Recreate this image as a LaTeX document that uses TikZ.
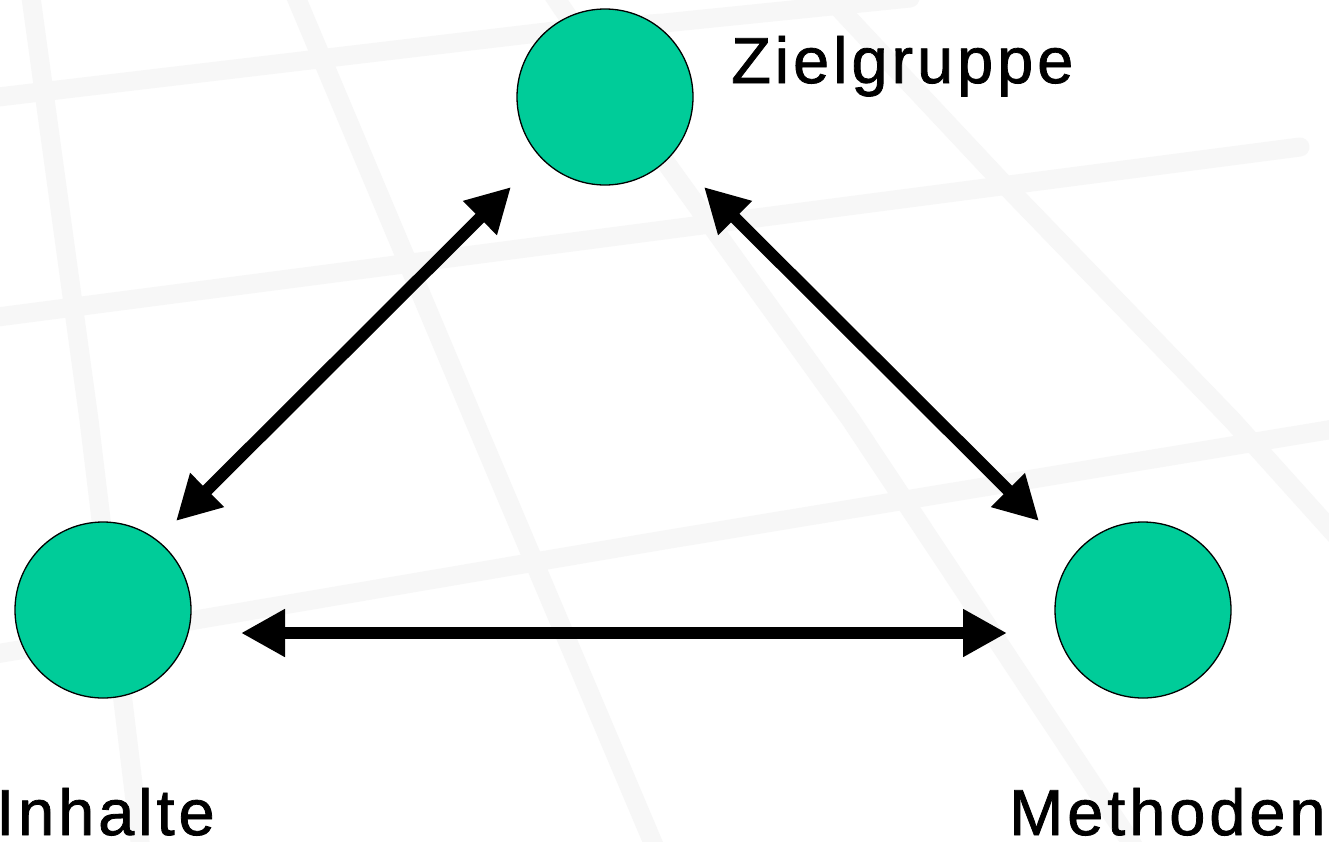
\documentclass[tikz,border=0pt]{standalone}
\usepackage{fontspec}
\setmainfont{Liberation Sans}[LetterSpace=6,FakeBold=1.2]
\usetikzlibrary{arrows.meta}
\definecolor{circfill}{RGB}{0,204,153}
\definecolor{bgline}{RGB}{247,247,247}
\tikzset{
  dot/.style={circle,draw=black,line width=1.3pt,fill=circfill,minimum size=176pt,inner sep=0pt},
  lbl/.style={anchor=base west,inner sep=0pt,font=\fontsize{65}{72}\selectfont},
  arr/.style={line width=12pt,{Triangle[length=44pt,width=45pt]}-{Triangle[length=44pt,width=45pt]}},
  grid/.style={line width=19pt,bgline,line cap=round}
}
\begin{document}
\begin{tikzpicture}[x=1pt,y=-1pt]
\useasboundingbox (0,0) rectangle (1329,841);
\fill[white] (0,0) rectangle (1329,841);
\begin{scope}
\clip (0,0) rectangle (1329,841);
% background grid
\draw[grid] (30,-10) -- (89,420) -- (141,850);
\draw[grid] (293,-10) -- (474,420) -- (656,850);
\draw[grid] (550,-10) -- (664,160) -- (851,420) -- (1136,850);
\draw[grid] (822,-10) -- (1003,183) -- (1232,420) -- (1340,540);
\draw[grid] (-10,98) -- (563,30) -- (664,23) -- (910,-2);
\draw[grid] (-10,318) -- (664,230) -- (1300,147);
\draw[grid] (-10,655) -- (664,540) -- (1340,428);
\end{scope}
% nodes
\node[dot] (Z) at (605,97) {};
\node[dot] (I) at (103,610) {};
\node[dot] (M) at (1143,610) {};
\node[lbl] (Zl) at (731,83) {Zielgruppe};
\node[lbl] (Il) at (-4,835) {Inhalte};
\node[lbl] (Ml) at (1009,835) {Methoden};
% connectors
\draw[arr] ([shift={(-94,90)}]Z.center) -- ([shift={(73,-89)}]I.center);
\draw[arr] ([shift={(99,90)}]Z.center) -- ([shift={(-104,-89)}]M.center);
\draw[arr] ([shift={(138,23)}]I.center) -- ([shift={(-136,23)}]M.center);
\end{tikzpicture}
\end{document}
